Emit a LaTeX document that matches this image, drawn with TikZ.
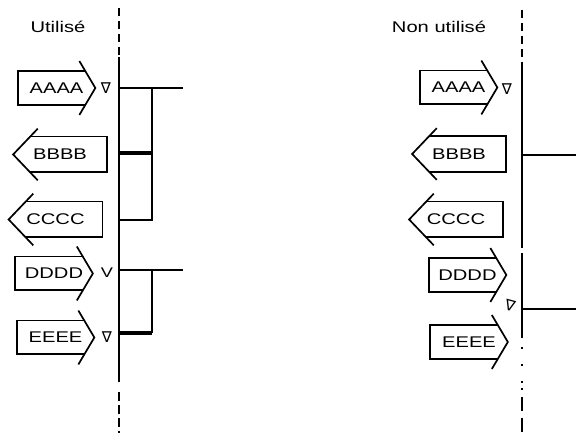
\documentclass[tikz,border=0pt]{standalone}
\usepackage{fontspec}
\setmainfont{Liberation Sans}[FakeStretch=1.3]
\newfontfamily\trifont{DejaVu Sans}
\usetikzlibrary{calc}

\begin{document}
\begin{tikzpicture}[x=1pt, y=-1pt, line width=1.7pt, font=\fontsize{15.5}{18}\selectfont]
    % Define styles
    \tikzstyle{title} = [inner sep=0pt]
    \tikzstyle{flagR} = [rectangle, inner sep=0pt, minimum width=76pt, minimum height=32pt]
    \tikzstyle{flagL} = [rectangle, inner sep=0pt, minimum width=92pt, minimum height=34pt]
    \tikzstyle{tri} = [inner sep=0pt, font=\trifont\fontsize{15}{15}\selectfont]
    \tikzstyle{railcut} = [dash pattern=on 8pt off 5pt]
    \tikzstyle{boldrung} = [line width=3.4pt]

    \useasboundingbox (0,0) rectangle (576,435);

    % Titles
    \node[title] (lt) at (58,27) {Utilisé};
    \node[title] (rt) at (439,27) {Non utilisé};

    % Flags, left side
    \node[flagR] (la) at (56.5,88) {AAAA};
    \node[flagL] (lb) at (60,154.5) {BBBB};
    \node[flagL] (lc) at (55.5,219.5) {CCCC};
    \node[flagR] (ld) at (54,273.5) {DDDD};
    \node[flagR] (le) at (55.5,337.5) {EEEE};
    \node[tri] (la-t) at (106,88) {∇};
    \node[inner sep=0pt, font=\fontsize{14}{14}\selectfont] (ld-t) at (107,273) {V};
    \node[tri] (le-t) at (107,337) {∇};

    % Flags, right side
    \node[flagR] (ra) at (458.5,87.5) {AAAA};
    \node[flagL] (rb) at (459,154) {BBBB};
    \node[flagL] (rc) at (456,219.5) {CCCC};
    \node[flagR] (rd) at (467.5,275) {DDDD};
    \node[flagR] (re) at (469,342) {EEEE};
    \node[tri] (ra-t) at (507,89) {∇};
    \node[tri, rotate=-15] (rd-t) at (510,306) {∇};

    % Outlines
    \foreach \n in {la,ld,le,ra,rd,re} {
        \coordinate (\n-nc) at ($(\n.north east)+(-10pt,0)$);
        \coordinate (\n-sc) at ($(\n.south east)+(-10pt,0)$);
        \draw (\n-nc) -- (\n.north west) -- (\n.south west) -- (\n-sc);
        \draw ($(\n.east)!1.6!(\n-nc)$) -- (\n.east) -- ($(\n.east)!1.6!(\n-sc)$);
    }
    \foreach \n in {lb,lc,rb,rc} {
        \coordinate (\n-nc) at ($(\n.north west)+(17pt,0)$);
        \coordinate (\n-sc) at ($(\n.south west)+(17pt,0)$);
        \draw (\n-nc) -- (\n.north east) -- (\n.south east) -- (\n-sc);
        \draw ($(\n.west)!1.45!(\n-nc)$) -- (\n.west) -- ($(\n.west)!1.45!(\n-sc)$);
    }

    % Left rail and rungs
    \coordinate (l-top) at (119,8);
    \coordinate (l-s) at (119,57);
    \coordinate (l-e) at (119,382);
    \coordinate (l-g) at (119,392);
    \coordinate (l-bot) at (119,433);
    \draw[railcut] (l-top) -- (l-s);
    \draw (l-s) -- (l-e);
    \draw[dash pattern=on 9pt off 4pt] (l-g) -- (l-bot);

    \coordinate (l-r1) at (119,88);
    \coordinate (l-r1e) at (183,88);
    \coordinate (l-j1) at (152,88);
    \coordinate (l-r2) at (119,153);
    \coordinate (l-j2) at (152,153);
    \coordinate (l-r3) at (119,220);
    \coordinate (l-j3) at (152,220);
    \draw (l-r1) -- (l-r1e);
    \draw (l-j1) -- (l-j3) -- (l-r3);
    \draw[boldrung] (l-r2) -- (l-j2);

    \coordinate (l-r4) at (119,270);
    \coordinate (l-r4e) at (183,270);
    \coordinate (l-j4) at (152,270);
    \coordinate (l-r5) at (119,333);
    \coordinate (l-j5) at (152,333);
    \draw (l-r4) -- (l-r4e);
    \draw (l-j4) -- (l-j5);
    \draw[boldrung] (l-j5) -- (l-r5);

    % Right rail and rungs
    \coordinate (r-top) at (522,10);
    \coordinate (r-s) at (522,62);
    \coordinate (r-e1) at (522,248);
    \coordinate (r-s2) at (522,253);
    \coordinate (r-e2) at (522,338);
    \coordinate (r-d) at (522,388);
    \coordinate (r-bot) at (522,435);
    \draw[railcut] (r-top) -- (r-s);
    \draw (r-s) -- (r-e1);
    \draw (r-s2) -- (r-e2);
    \draw[dash pattern=on 2pt off 15pt, dash phase=-9pt] (r-e2) -- (r-d);
    \draw[dash pattern=on 14pt off 7pt, dash phase=-9pt] (r-d) -- (r-bot);

    \coordinate (r-r1) at (522,155);
    \coordinate (r-r1e) at (576,155);
    \coordinate (r-r2) at (522,309);
    \coordinate (r-r2e) at (576,309);
    \draw (r-r1) -- (r-r1e);
    \draw[line width=2.6pt, dash pattern=on 8pt off 3pt, dash phase=-13pt] (r-r1) -- (r-r1e);
    \draw (r-r2) -- (r-r2e);
\end{tikzpicture}
\end{document}
